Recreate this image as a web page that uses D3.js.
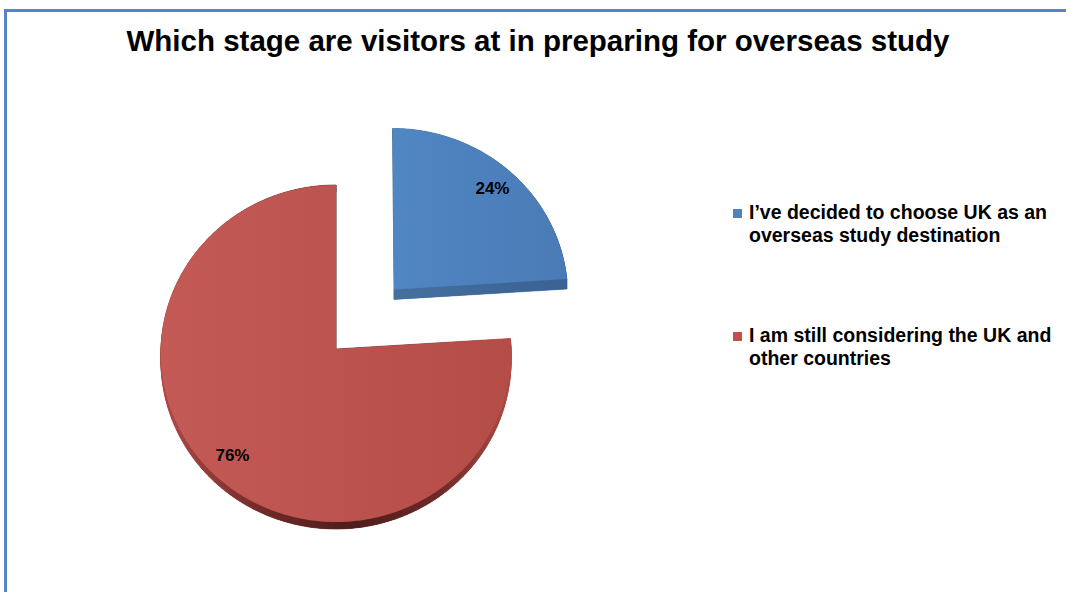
<!DOCTYPE html>
<html>
<head>
<meta charset="utf-8">
<script src="https://cdn.jsdelivr.net/npm/d3@7"></script>
<style>
  html, body { margin: 0; padding: 0; background: #ffffff; }
  svg { display: block; }
  text { font-family: "Liberation Sans", Arial, sans-serif; font-weight: bold; fill: #000; }
</style>
</head>
<body>
<svg id="chart" width="1066" height="592"></svg>
<script>
// Survey answers and their shares (percent)
const categories = [
  "I\u2019ve decided to choose UK as an overseas study destination",
  "I am still considering the UK and other countries"
];
const values = [24, 76];
const labels = ["24%", "76%"];
const titleText = "Which stage are visitors at in preparing for overseas study";

const topColors  = [["#5086c2", "#4a7bb7"], ["#c45a55", "#b44c48"]];
const sideColors = [["#44709f", "#3a6293"], ["#b04a46", "#4e1d1b"]];
const legendColors = ["#4f81bd", "#c0504d"];

const W = 1066, H = 592;
const svg = d3.select("#chart");
const defs = svg.append("defs");

// Frame lines (left and top)
svg.append("line").attr("x1", 5.5).attr("y1", 9).attr("x2", 5.5).attr("y2", H)
  .attr("stroke", "#5685c2").attr("stroke-width", 3);
svg.append("line").attr("x1", 4).attr("y1", 10.5).attr("x2", W).attr("y2", 10.5)
  .attr("stroke", "#5685c2").attr("stroke-width", 3);

// Title
svg.append("text").attr("x", 538).attr("y", 51)
  .attr("text-anchor", "middle").style("font-size", "29.5px")
  .text(titleText);

// Tilted pie: plane coords (u to the right, v toward the viewer) projected with mild perspective
const cx = 336, cy = 349, rx = 175, ry = 168.4, persp = 0.0267;
const explode = [0.49, 0];
const depth = [10, 7];
function project(u, v) {
  const s = 1 / (1 - persp * v);
  return [cx + rx * u * s, cy + ry * v * s];
}

const pie = d3.pie().sort(null).value(d => d)(values);

pie.forEach((d, i) => {
  const mid = (d.startAngle + d.endAngle) / 2;
  const ex = explode[i] * Math.sin(mid), ey = -explode[i] * Math.cos(mid);
  const n = Math.max(8, Math.ceil((d.endAngle - d.startAngle) / 0.01));
  const angles = d3.range(n + 1).map(k => d.startAngle + (d.endAngle - d.startAngle) * k / n);
  const pts = [project(ex, ey)].concat(angles.map(a => project(ex + Math.sin(a), ey - Math.cos(a))));
  const dz = depth[i];
  const shifted = pts.map(p => [p[0], p[1] + dz]);
  const line = d3.line().curve(d3.curveLinearClosed);

  const xs = pts.map(p => p[0]);
  const x0 = d3.min(xs), x1 = d3.max(xs);

  const gTop = defs.append("linearGradient").attr("id", "top" + i)
    .attr("gradientUnits", "userSpaceOnUse").attr("x1", x0).attr("x2", x1).attr("y1", 0).attr("y2", 0);
  gTop.append("stop").attr("offset", 0).attr("stop-color", topColors[i][0]);
  gTop.append("stop").attr("offset", 1).attr("stop-color", topColors[i][1]);

  const gSide = defs.append("linearGradient").attr("id", "side" + i)
    .attr("gradientUnits", "userSpaceOnUse").attr("x1", x0).attr("x2", x1).attr("y1", 0).attr("y2", 0);
  if (i === 1) {
    gSide.append("stop").attr("offset", 0).attr("stop-color", sideColors[i][0]);
    gSide.append("stop").attr("offset", 0.3).attr("stop-color", "#6e2a27");
    gSide.append("stop").attr("offset", 0.55).attr("stop-color", sideColors[i][1]);
    gSide.append("stop").attr("offset", 0.8).attr("stop-color", "#6e2a27");
    gSide.append("stop").attr("offset", 1).attr("stop-color", sideColors[i][0]);
  } else {
    gSide.append("stop").attr("offset", 0).attr("stop-color", sideColors[i][0]);
    gSide.append("stop").attr("offset", 1).attr("stop-color", sideColors[i][1]);
  }

  const g = svg.append("g");
  // extruded side: shifted face plus a quad along every edge
  g.append("path").attr("d", line(shifted)).attr("fill", `url(#side${i})`);
  const quads = [];
  for (let k = 0; k < pts.length; k++) {
    const a = pts[k], b = pts[(k + 1) % pts.length];
    quads.push([a, b, [b[0], b[1] + dz], [a[0], a[1] + dz]]);
  }
  g.selectAll("path.q").data(quads).join("path").attr("class", "q")
    .attr("d", q => line(q)).attr("fill", `url(#side${i})`)
    .attr("stroke", `url(#side${i})`).attr("stroke-width", 0.6);
  // top face
  g.append("path").attr("d", line(pts)).attr("fill", `url(#top${i})`);

  // value label along the mid-angle
  const lr = 0.85;
  const lp = project(ex + lr * Math.sin(mid), ey - lr * Math.cos(mid));
  svg.append("text").attr("x", lp[0]).attr("y", lp[1])
    .attr("text-anchor", "middle").attr("dominant-baseline", "central")
    .style("font-size", "17px").text(labels[i]);
});

// Legend
const legendX = 733, legendY = [219, 342], lineH = 22.5, maxW = 312;
categories.forEach((c, i) => {
  svg.append("rect").attr("x", legendX).attr("y", legendY[i] - 10)
    .attr("width", 9).attr("height", 9).attr("fill", legendColors[i]);
  const t = svg.append("text").attr("x", legendX + 16).attr("y", legendY[i])
    .style("font-size", "19.5px");
  const words = c.split(" ");
  let line = [], lineNo = 0;
  let ts = t.append("tspan").attr("x", legendX + 16).attr("y", legendY[i]);
  words.forEach(w => {
    line.push(w);
    ts.text(line.join(" "));
    if (ts.node().getComputedTextLength() > maxW && line.length > 1) {
      line.pop();
      ts.text(line.join(" "));
      line = [w];
      lineNo++;
      ts = t.append("tspan").attr("x", legendX + 16).attr("y", legendY[i] + lineNo * lineH).text(w);
    }
  });
});
</script>
</body>
</html>
